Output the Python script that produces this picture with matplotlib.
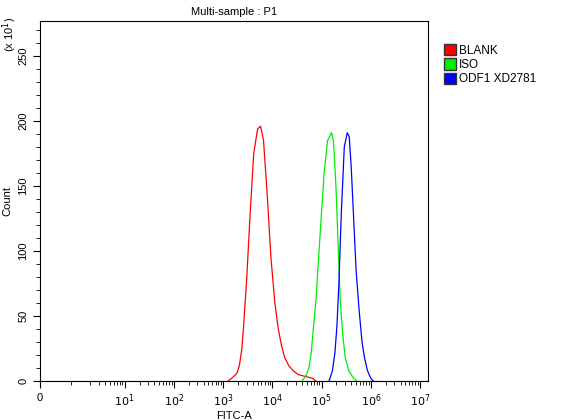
import matplotlib
matplotlib.use("Agg")
import matplotlib.pyplot as plt
from matplotlib.patches import Patch
import numpy as np

plt.rcParams['font.family'] = ['Liberation Sans', 'DejaVu Sans']

# x in log10 display units (decade position); y in counts (x10)
red_x = [3.10,3.2,3.28,3.33,3.38,3.42,3.48,3.55,3.62,3.7,3.76,3.82,3.9,3.97,4.05,4.12,4.18,4.25,4.33,4.42,4.52,4.62,4.72,4.82,4.88]
red_y = [0,3,6,12,25,45,80,130,175,194,196,185,140,95,60,40,28,18,12,8,5,4,3,2,0]
green_x = [4.60,4.68,4.74,4.79,4.83,4.88,4.93,4.99,5.05,5.12,5.2,5.24,5.29,5.34,5.38,5.43,5.48,5.55,5.65,5.72]
green_y = [0,4,10,22,40,60,90,125,160,185,191,185,150,100,60,35,18,8,2,0]
blue_x = [5.15,5.22,5.27,5.31,5.35,5.4,5.46,5.52,5.56,5.6,5.65,5.7,5.76,5.82,5.87,5.93,6.0,6.05]
blue_y = [0,8,22,42,75,130,180,191,188,165,125,85,55,30,18,8,2,0]
labels = ["BLANK", "ISO", "ODF1 XD2781"]
colors = ["#ff0000", "#00ee00", "#0000ff"]

fig = plt.figure(figsize=(5.66, 4.20), dpi=100)
ax = fig.add_axes([40/566, 1-381/420, (428-40)/566, (381-21)/420])
for xs, ys, c in [(red_x, red_y, colors[0]), (green_x, green_y, colors[1]), (blue_x, blue_y, colors[2])]:
    ax.plot(xs, ys, color=c, lw=0.9)
ax.axhline(0, color='#444444', lw=0.8)

ax.set_xlim(-0.72, 7.16)
ax.set_ylim(0, 277)
ax.set_xticks([-0.72, 1, 2, 3, 4, 5, 6, 7])
ax.set_xticklabels(['0'] + [f'$10^{{{i}}}$' for i in range(1, 8)], fontsize=8)
minors = [-0.1] + [d + np.log10(k) for d in range(0, 7) for k in range(2, 10)]
ax.set_xticks(minors, minor=True)
ax.set_yticks([0, 50, 100, 150, 200, 250])
ax.set_yticklabels(['0', '50', '100', '150', '200', '250'], fontsize=8, rotation=90, va='center')
ax.set_yticks(np.arange(0, 277, 10), minor=True)
ax.tick_params(which='major', length=5, width=0.8, direction='out')
ax.tick_params(which='minor', length=3, width=0.6, direction='out')
ax.set_xlabel('FITC-A', fontsize=8, labelpad=1)
ax.set_ylabel('Count', fontsize=8)
ax.set_title('Multi-sample : P1', fontsize=8, pad=4)
fig.text(10/566, 1-34/420, '(x 10$^1$)', rotation=90, fontsize=8, ha='center', va='center')

handles = [Patch(facecolor=c, edgecolor='#333333', label=l) for c, l in zip(colors, labels)]
fig.legend(handles=handles, loc='upper left', bbox_to_anchor=(438/566, 1-38/420), frameon=False,
           fontsize=8.5, handlelength=1.0, handleheight=1.1, handletextpad=0.3, labelspacing=0.15, borderpad=0)
fig.savefig('out.png', dpi=100)
